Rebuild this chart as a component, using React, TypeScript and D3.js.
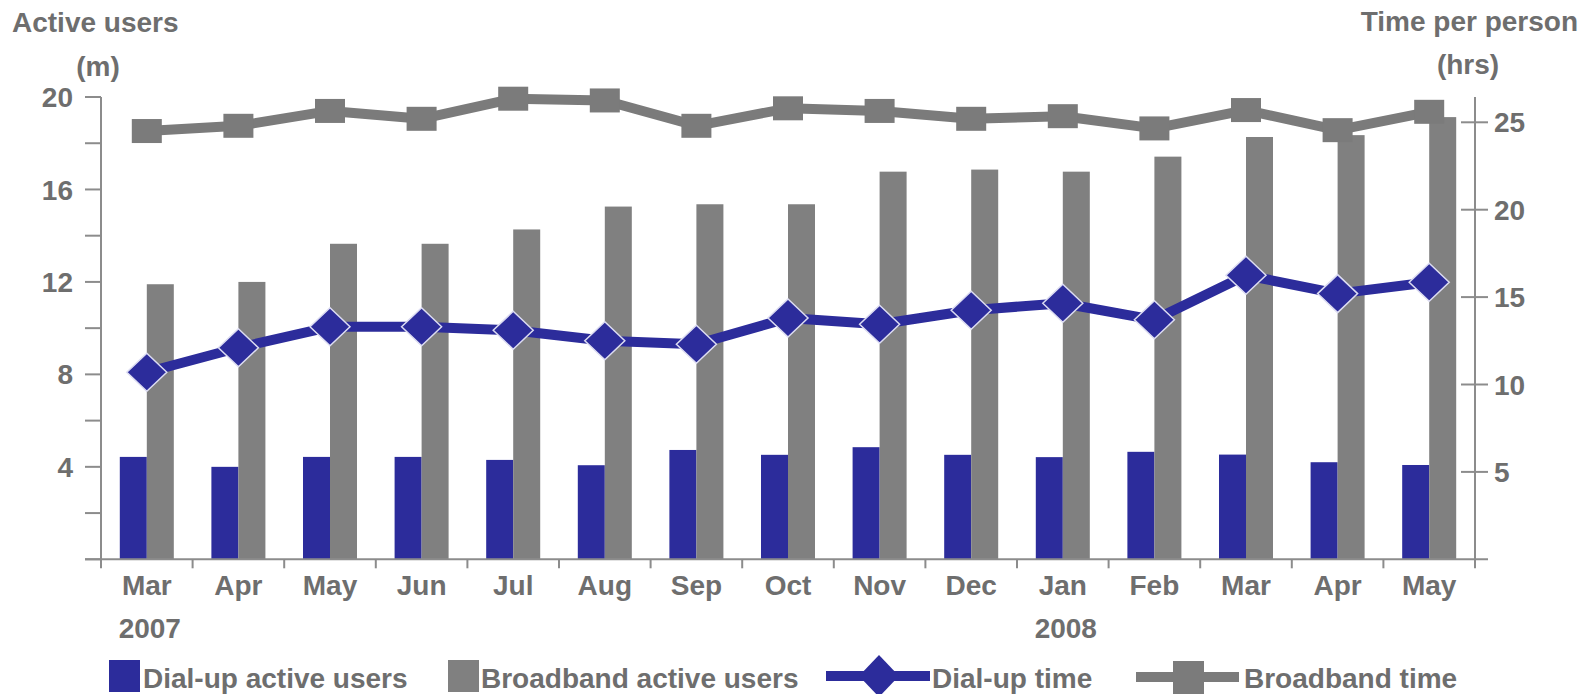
import React from 'react';
import * as d3 from 'd3';

// Monthly categories, March 2007 – May 2008
const months = ['Mar', 'Apr', 'May', 'Jun', 'Jul', 'Aug', 'Sep', 'Oct', 'Nov', 'Dec', 'Jan', 'Feb', 'Mar', 'Apr', 'May'];
const yearLabels = ['2007', '2008'];
const yearIndex = [0, 10];

// Active users (millions)
const dialUpUsers = [4.43, 4.0, 4.43, 4.43, 4.3, 4.07, 4.73, 4.52, 4.85, 4.52, 4.42, 4.65, 4.53, 4.2, 4.08];
const broadbandUsers = [11.9, 12.0, 13.65, 13.65, 14.27, 15.26, 15.36, 15.36, 16.77, 16.86, 16.77, 17.42, 18.27, 18.35, 19.13];

// Time per person (hours)
const dialUpTime = [10.7, 12.1, 13.3, 13.3, 13.1, 12.5, 12.3, 13.8, 13.45, 14.25, 14.65, 13.7, 16.25, 15.2, 15.85];
const broadbandTime = [24.5, 24.8, 25.65, 25.2, 26.35, 26.25, 24.8, 25.8, 25.65, 25.2, 25.35, 24.65, 25.7, 24.55, 25.6];

const leftTickValues = [4, 8, 12, 16, 20];
const leftMinorValues = d3.range(0, 21, 2);
const rightTickValues = [5, 10, 15, 20, 25];

const legendLabels = ['Dial-up active users', 'Broadband active users', 'Dial-up time', 'Broadband time'];

const BLUE = '#2c2c9b';
const GREY = '#808080';
const LINE_GREY = '#7b7b7b';
const AXIS = '#8c8c8c';
const TEXT = '#6e6e6e';
const FONT = '"Liberation Sans", Arial, sans-serif';

export default function App() {
  const width = 1584;
  const height = 694;
  const left = 101;
  const right = 1475;
  const bottom = 559.3;

  const x = d3.scaleBand<number>().domain(d3.range(months.length)).range([left, right]).padding(0);
  const inner = d3
    .scaleBand<string>()
    .domain(['dial', 'broad'])
    .range([0, x.bandwidth()])
    .paddingInner(0)
    .paddingOuter(0.696);
  const yL = d3.scaleLinear().domain([0, 20]).range([bottom, 97]);
  const yR = d3.scaleLinear().domain([0, 25]).range([bottom, 122.3]);
  const cx = (i: number) => (x(i) as number) + x.bandwidth() / 2;

  const timeLine = d3
    .line<number>()
    .x((_, i) => cx(i))
    .y((d) => yR(d));

  const diamond = (w: number, h: number) => `M0,${-h / 2}L${w / 2},0L0,${h / 2}L${-w / 2},0Z`;

  const boundaries = d3.range(months.length + 1).map((i) => left + i * x.step());

  const textStyle = { fontFamily: FONT, fontWeight: 700, fontSize: 28, fill: TEXT } as const;

  return (
    <svg
      width={width}
      height={height}
      viewBox={`0 0 ${width} ${height}`}
      style={{ position: 'absolute', left: 0, top: 0, background: '#fff' }}
    >
      {/* Axis titles */}
      <text x={12} y={32} {...textStyle}>Active users</text>
      <text x={98} y={76} textAnchor="middle" {...textStyle}>(m)</text>
      <text x={1578} y={31} textAnchor="end" {...textStyle}>Time per person</text>
      <text x={1468} y={74} textAnchor="middle" {...textStyle}>(hrs)</text>

      {/* Bars */}
      {dialUpUsers.map((v, i) => (
        <rect
          key={`d${i}`}
          x={(x(i) as number) + (inner('dial') as number)}
          y={yL(v)}
          width={inner.bandwidth()}
          height={bottom - yL(v)}
          fill={BLUE}
        />
      ))}
      {broadbandUsers.map((v, i) => (
        <rect
          key={`b${i}`}
          x={(x(i) as number) + (inner('broad') as number)}
          y={yL(v)}
          width={inner.bandwidth()}
          height={bottom - yL(v)}
          fill={GREY}
        />
      ))}

      {/* Left axis */}
      <line x1={left} x2={left} y1={yL(20)} y2={bottom + 8} stroke={AXIS} strokeWidth={2} />
      {leftMinorValues.map((v) => (
        <line key={`lt${v}`} x1={left - 16} x2={left} y1={yL(v)} y2={yL(v)} stroke={AXIS} strokeWidth={2} />
      ))}
      {leftTickValues.map((v) => (
        <text key={`ll${v}`} x={73} y={yL(v)} dy="0.36em" textAnchor="end" {...textStyle}>
          {v}
        </text>
      ))}

      {/* Right axis */}
      <line x1={right} x2={right} y1={yL(20)} y2={bottom + 8} stroke={AXIS} strokeWidth={2} />
      {rightTickValues.map((v) => (
        <g key={`rt${v}`}>
          <line x1={right - 14} x2={right + 13} y1={yR(v)} y2={yR(v)} stroke={AXIS} strokeWidth={2} />
          <text x={right + 19} y={yR(v)} dy="0.36em" {...textStyle}>
            {v}
          </text>
        </g>
      ))}

      {/* Category axis */}
      <line x1={left - 16} x2={right + 13} y1={bottom} y2={bottom} stroke={AXIS} strokeWidth={2} />
      {boundaries.map((bx, i) => (
        <line key={`xt${i}`} x1={bx} x2={bx} y1={bottom} y2={bottom + 9} stroke={AXIS} strokeWidth={2} />
      ))}
      {months.map((m, i) => (
        <text key={`xl${i}`} x={cx(i)} y={595} textAnchor="middle" {...textStyle}>
          {m}
        </text>
      ))}
      {yearLabels.map((yl, k) => (
        <text key={`yr${k}`} x={cx(yearIndex[k]) + 3} y={638} textAnchor="middle" {...textStyle}>
          {yl}
        </text>
      ))}

      {/* Broadband time line */}
      <path d={timeLine(broadbandTime) as string} fill="none" stroke={LINE_GREY} strokeWidth={10} strokeLinejoin="round" />
      {broadbandTime.map((v, i) => (
        <rect key={`bs${i}`} x={cx(i) - 15} y={yR(v) - 12} width={30} height={24} fill={LINE_GREY} />
      ))}

      {/* Dial-up time line */}
      <path d={timeLine(dialUpTime) as string} fill="none" stroke={BLUE} strokeWidth={10} strokeLinejoin="round" />
      {dialUpTime.map((v, i) => (
        <path
          key={`dm${i}`}
          d={diamond(40, 38)}
          transform={`translate(${cx(i)},${yR(v)})`}
          fill={BLUE}
          stroke="#dcdcf2"
          strokeWidth={1.5}
        />
      ))}

      {/* Legend */}
      <rect x={109} y={660} width={31} height={32} fill={BLUE} />
      <text x={143} y={688} {...textStyle}>{legendLabels[0]}</text>
      <rect x={448} y={660} width={31} height={32} fill={GREY} />
      <text x={481} y={688} {...textStyle}>{legendLabels[1]}</text>
      <line x1={826} x2={930} y1={676} y2={676} stroke={BLUE} strokeWidth={10} />
      <path d={diamond(40, 42)} transform="translate(879,676)" fill={BLUE} />
      <text x={932} y={688} {...textStyle}>{legendLabels[2]}</text>
      <line x1={1136} x2={1239} y1={677} y2={677} stroke={LINE_GREY} strokeWidth={10} />
      <rect x={1173} y={661} width={31} height={34} fill={LINE_GREY} />
      <text x={1244} y={688} {...textStyle}>{legendLabels[3]}</text>
    </svg>
  );
}
